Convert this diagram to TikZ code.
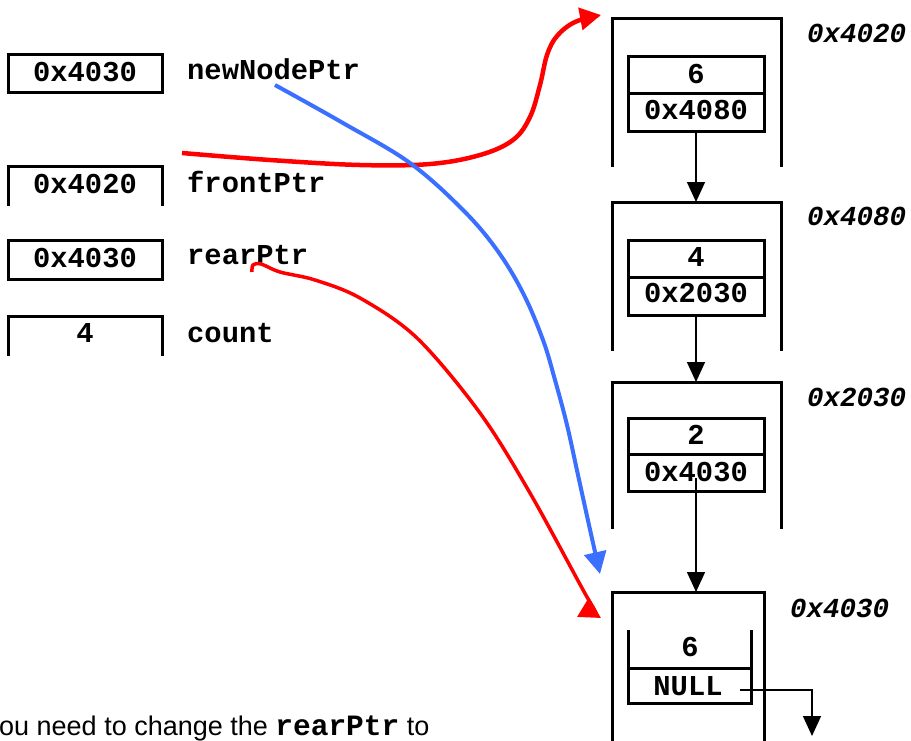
\documentclass[tikz,border=0pt]{standalone}
\usepackage{fontspec}
\setmainfont{Liberation Sans}
\newfontfamily\cour{Liberation Mono}
\usetikzlibrary{arrows.meta}
\definecolor{myred}{RGB}{255,0,0}
\definecolor{myblue}{RGB}{59,111,255}
\begin{document}
\begin{tikzpicture}[x=1pt,y=-1pt,
  frame/.style={line width=3pt, line cap=rect},
  mono/.style={font=\cour\bfseries\fontsize{28.8}{30}\selectfont, inner sep=0pt, anchor=base},
  lbl/.style={mono, anchor=base west},
  addr/.style={font=\cour\bfseries\itshape\fontsize{27.5}{30}\selectfont, inner sep=0pt, anchor=base west},
  link/.style={line width=1.5pt, -{Triangle[length=20pt,width=18pt]}},
  redc/.style={myred, line width=4.5pt, -{Triangle[length=21pt,width=22pt]}},
  bluec/.style={myblue, line width=4pt, -{Triangle[length=22pt,width=22pt]}}]
\useasboundingbox (0,0) rectangle (911,740);
\clip (0,0) rectangle (911,740);

% ---- left variable boxes ----
\draw[frame] (8,54) rectangle (162,92);
\node[mono] (vnew) at (85,81) {0x4030};
\node[lbl] (lnew) at (187,79) {newNodePtr};

\draw[frame] (8,204) -- (8,166) -- (162,166) -- (162,204);
\node[mono] (vfront) at (85,193) {0x4020};
\node[lbl] (lfront) at (187,192) {frontPtr};

\draw[frame] (8,240) rectangle (162,279);
\node[mono] (vrear) at (85,267) {0x4030};
\node[lbl] (lrear) at (187,264) {rearPtr};

\draw[frame] (8,354) -- (8,316) -- (162,316) -- (162,354);
\node[mono] (vcount) at (85,342) {4};
\node[lbl] (lcount) at (187,342) {count};

% ---- list node 0x4020 ----
\draw[frame] (612,165) -- (612,18) -- (781,18) -- (781,165);
\draw[frame] (628,56) rectangle (764,131);
\draw[frame] (628,93) -- (764,93);
\node[mono] (d1) at (696,83) {6};
\node[mono] (p1) at (696,119) {0x4080};
\node[addr] (a1) at (807,42) {0x4020};

% ---- list node 0x4080 ----
\draw[frame] (612,349) -- (612,202) -- (781,202) -- (781,349);
\draw[frame] (628,240) rectangle (764,315);
\draw[frame] (628,277) -- (764,277);
\node[mono] (d2) at (696,266) {4};
\node[mono] (p2) at (696,302) {0x2030};
\node[addr] (a2) at (807,225) {0x4080};

% ---- list node 0x2030 ----
\draw[frame] (612,527) -- (612,382) -- (781,382) -- (781,527);
\draw[frame] (628,418) rectangle (764,491);
\draw[frame] (628,454) -- (764,454);
\node[mono] (d3) at (696,444) {2};
\node[mono] (p3) at (696,481) {0x4030};
\node[addr] (a3) at (807,406) {0x2030};

% ---- list node 0x4030 ----
\draw[frame] (612,760) -- (612,592) -- (764,592) -- (764,760);
\draw[frame] (628,631) -- (628,703) -- (751,703) -- (751,631);
\draw[frame] (628,668) -- (751,668);
\node[mono] (d4) at (690,656) {6};
\node[mono] (p4) at (688,695) {NULL};
\node[addr] (a4) at (790,617) {0x4030};

% ---- black links ----
\coordinate (s1) at (696,131);
\coordinate (t1) at (696,202);
\coordinate (s2) at (696,315);
\coordinate (t2) at (696,382);
\coordinate (s3) at (696,478);
\coordinate (t3) at (696,592);
\coordinate (s4) at (740,690);
\coordinate (k4) at (812,690);
\coordinate (t4) at (812,736);
\draw[link] (s1) -- (t1);
\draw[link] (s2) -- (t2);
\draw[link] (s3) -- (t3);
\draw[link] (s4) -- (k4) -- (t4);

% ---- coloured pointer curves ----
\coordinate (rf) at (182,153);
\coordinate (rft) at (601,15);
\draw[redc] plot[smooth, tension=0.6] coordinates {(rf) (270,160) (360,165) (430,164) (480,155) (513,140) (530,117) (540,85) (547,55) (557,36) (575,22) (rft)};

\coordinate (bn) at (275,85);
\coordinate (bnt) at (600,574);
\draw[bluec] plot[smooth, tension=0.6] coordinates {(bn) (343,123) (410,163) (463,210) (497,250) (523,293) (543,340) (555,380) (567,425) (578,475) (589,525) (bnt)};

\coordinate (rr) at (252,272);
\coordinate (rrt) at (601,618);
\draw[redc, line width=3.5pt] plot[smooth, tension=0.55] coordinates {(rr) (253,265) (261,264) (280,272) (315,280) (360,298) (417,338) (480,413) (530,493) (587,597) (rrt)};

% ---- caption (cut off) ----
\node[anchor=base west, inner sep=0pt, font=\fontsize{27}{30}\selectfont] (note) at (-1,735) {ou need to change the {\cour\bfseries\fontsize{29.5}{30}\selectfont rearPtr} to};
\end{tikzpicture}
\end{document}
